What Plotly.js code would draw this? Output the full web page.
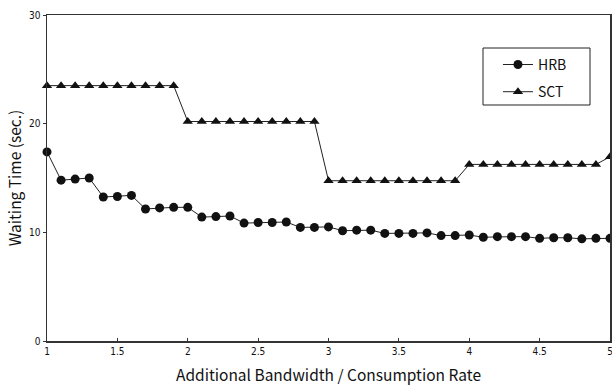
<!DOCTYPE html>
<html>
<head>
<meta charset="utf-8">
<script src="https://cdn.plot.ly/plotly-3.0.1.min.js"></script>
<style>html,body{margin:0;padding:0;background:#fff;}#chart{width:612px;height:388px;}</style>
</head>
<body>
<div id="chart"></div>
<script>
const xValues = [1.0,1.1,1.2,1.3,1.4,1.5,1.6,1.7,1.8,1.9,2.0,2.1,2.2,2.3,2.4,2.5,2.6,2.7,2.8,2.9,3.0,3.1,3.2,3.3,3.4,3.5,3.6,3.7,3.8,3.9,4.0,4.1,4.2,4.3,4.4,4.5,4.6,4.7,4.8,4.9,5.0];
const hrbValues = [17.4,14.8,14.9,15.0,13.25,13.3,13.4,12.15,12.25,12.3,12.3,11.4,11.45,11.5,10.85,10.9,10.9,10.95,10.45,10.45,10.5,10.15,10.2,10.2,9.9,9.9,9.9,9.95,9.7,9.7,9.75,9.55,9.6,9.6,9.6,9.45,9.5,9.5,9.4,9.45,9.45];
const sctValues = [23.5,23.5,23.5,23.5,23.5,23.5,23.5,23.5,23.5,23.5,20.2,20.2,20.2,20.2,20.2,20.2,20.2,20.2,20.2,20.2,14.75,14.75,14.75,14.75,14.75,14.75,14.75,14.75,14.75,14.75,16.25,16.25,16.25,16.25,16.25,16.25,16.25,16.25,16.25,16.25,16.95];
const seriesNames = ['HRB','SCT'];
const xTickVals = [1,1.5,2,2.5,3,3.5,4,4.5,5];
const xTickText = ['1','1.5','2','2.5','3','3.5','4','4.5','5'];
const yTickVals = [0,10,20,30];

const titleFont = 'Noto Sans CJK JP, Noto Sans, sans-serif';
const tickFont = 'Liberation Sans Narrow, DejaVu Sans Condensed, sans-serif';
const traces = [
  {x:xValues, y:hrbValues, name:seriesNames[0], legendgroup:'a', mode:'lines+markers', type:'scatter',
   line:{color:'#222', width:1}, marker:{symbol:'circle', size:9, color:'#111'}, cliponaxis:false},
  {x:xValues, y:sctValues, name:seriesNames[1], legendgroup:'b', mode:'lines+markers', type:'scatter',
   line:{color:'#222', width:1}, marker:{symbol:'triangle-up', size:9, color:'#111'}, cliponaxis:false}
];
const layout = {
  width:612, height:388,
  margin:{l:47, r:2, t:15, b:47},
  paper_bgcolor:'#fff', plot_bgcolor:'#fff',
  font:{family:titleFont, color:'#111', size:10},
  showlegend:true,
  legend:{x:0.801, y:0.896, xanchor:'left', yanchor:'top', borderwidth:0,
          bgcolor:'rgba(0,0,0,0)', font:{family:titleFont, size:14, color:'#111'}, tracegroupgap:6, itemwidth:30},
  shapes:[{type:'rect', xref:'paper', yref:'paper', x0:(483-47)/563, x1:(590-47)/563, y0:1-(105-15)/326, y1:1-(48-15)/326,
           line:{color:'#222', width:1}, fillcolor:'rgba(0,0,0,0)', layer:'above'}],
  xaxis:{range:[1,5], tickvals:xTickVals, ticktext:xTickText, ticks:'inside', ticklen:3, tickcolor:'#333',
         showline:true, linecolor:'#333', linewidth:1.5, mirror:true, showgrid:false, zeroline:false,
         ticklabeloverflow:'allow',
         tickfont:{family:tickFont, size:10, color:'#111'},
         title:{text:'Additional Bandwidth / Consumption Rate', font:{family:titleFont, size:15.5, color:'#111'}, standoff:14}},
  yaxis:{range:[0,30], tickvals:yTickVals, ticks:'outside', ticklen:3, tickcolor:'#333',
         showline:true, linecolor:'#333', linewidth:1.5, mirror:true, showgrid:false, zeroline:false,
         tickfont:{family:tickFont, size:10, color:'#111'},
         title:{text:'Waiting Time (sec.)', font:{family:titleFont, size:15.5, color:'#111'}, standoff:3}}
};
Plotly.newPlot('chart', traces, layout, {displayModeBar:false, staticPlot:true});
</script>
</body>
</html>
